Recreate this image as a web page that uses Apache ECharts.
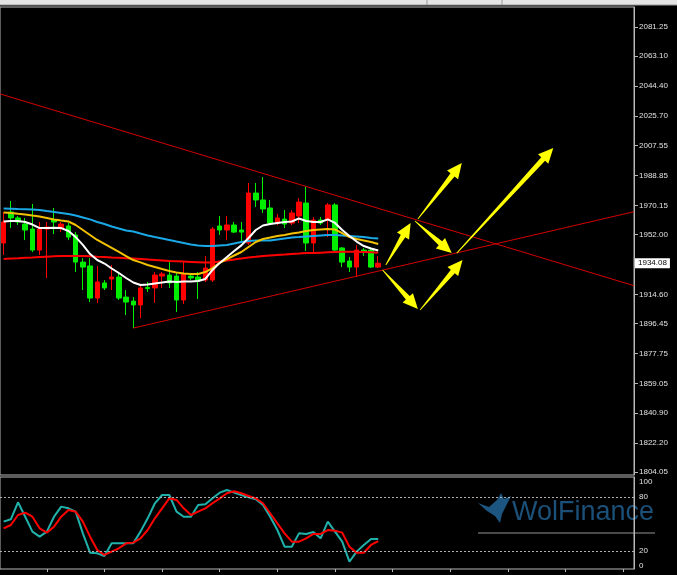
<!DOCTYPE html>
<html>
<head>
<meta charset="utf-8">
<script src="https://cdn.jsdelivr.net/npm/echarts@6/dist/echarts.min.js"></script>
<style>html,body{margin:0;padding:0;background:#000;}#c{width:677px;height:575px;}</style>
</head>
<body>
<div id="c"></div>
<script>
// ---- data ----
const slotCount = 88; // bar slots on the time axis (53 bars + empty space to the right)
const categories = Array.from({length: slotCount}, (_, i) => 'B' + i);

const open  = [1946.7,1966.0,1962.3,1958.5,1955.4,1942.3,1955.4,1961.0,1956.0,1957.3,
               1951.7,1934.8,1932.4,1912.4,1921.8,1924.3,1925.5,1913.0,1910.5,1908.1,
               1919.0,1918.7,1926.1,1926.7,1926.1,1911.2,1926.1,1925.5,1923.6,1923.6,
               1957.3,1954.8,1957.9,1954.8,1946.7,1977.8,1973.5,1968.5,1959.1,1961.6,
               1959.1,1963.5,1971.6,1946.7,1961.0,1961.0,1970.4,1943.6,1935.5,1931.7,
               1942.3,1942.3,1931.7];
const close = [1959.8,1962.3,1959.8,1954.8,1942.3,1955.4,1956.6,1959.8,1958.5,1950.4,
               1934.8,1931.7,1912.4,1922.4,1918.7,1925.5,1912.4,1909.9,1908.1,1918.7,
               1918.3,1926.7,1927.4,1921.8,1911.2,1927.4,1924.9,1923.0,1931.1,1955.4,
               1954.8,1957.9,1953.5,1953.5,1977.8,1973.5,1967.9,1959.1,1962.3,1958.5,
               1965.4,1972.2,1946.7,1961.0,1959.1,1970.4,1942.3,1934.8,1931.7,1942.3,
               1941.1,1931.7,1934.08];
const low   = [1939.2,1956.0,1957.9,1948.5,1941.1,1939.2,1924.9,1952.3,1953.5,1948.5,
               1928.6,1917.4,1909.9,1909.3,1917.4,1917.4,1911.2,1901.8,1893.7,1899.9,
               1916.2,1909.3,1918.7,1918.7,1903.7,1908.7,1923.6,1911.8,1922.4,1922.4,
               1951.7,1948.5,1952.9,1947.3,1945.4,1969.1,1965.4,1957.9,1957.9,1956.0,
               1957.9,1959.1,1941.7,1941.1,1957.9,1950.4,1941.1,1931.7,1928.6,1925.5,
               1938.6,1931.1,1931.1];
const high  = [1966.0,1972.9,1963.5,1962.3,1971.0,1959.8,1959.8,1968.5,1959.8,1959.1,
               1953.5,1937.3,1937.3,1932.4,1923.6,1933.0,1928.6,1917.4,1913.0,1920.5,
               1922.4,1928.6,1928.6,1934.8,1928.6,1934.8,1927.4,1928.6,1938.6,1956.6,
               1963.5,1963.5,1959.8,1959.8,1984.1,1984.1,1987.8,1973.5,1964.8,1967.2,
               1967.2,1974.7,1981.6,1962.9,1962.9,1971.6,1971.6,1944.2,1938.0,1945.4,
               1943.6,1943.6,1938.6];

const maBlue   = [1968.2,1968.1,1967.9,1967.8,1967.6,1967.3,1966.6,1966.0,1965.4,1964.7,
                  1963.8,1962.6,1961.4,1959.8,1958.5,1957.0,1955.7,1954.5,1953.9,1952.6,
                  1951.4,1950.4,1949.5,1948.6,1947.6,1946.7,1945.8,1945.2,1944.8,1944.8,
                  1945.2,1945.5,1946.4,1947.3,1948.0,1948.3,1948.3,1948.3,1948.9,1949.5,
                  1950.1,1950.4,1950.8,1951.1,1951.4,1951.7,1951.7,1951.4,1951.1,1950.8,
                  1950.4,1949.8,1949.5];
const maYellow = [1965.7,1965.4,1964.9,1964.5,1963.8,1963.2,1962.3,1961.4,1960.7,1960.1,
                  1957.9,1954.8,1951.7,1948.6,1946.1,1943.6,1941.1,1938.6,1936.1,1934.6,
                  1933.0,1931.8,1930.5,1929.3,1928.3,1927.7,1927.4,1927.4,1928.6,1931.1,
                  1934.3,1936.7,1938.9,1941.1,1944.2,1947.3,1949.2,1950.1,1951.1,1951.7,
                  1952.6,1953.3,1954.2,1954.8,1955.1,1955.4,1955.1,1952.9,1950.4,1949.2,
                  1948.3,1947.3,1946.1];
const maWhite  = [1960.1,1960.4,1960.4,1959.8,1958.2,1956.0,1956.0,1956.2,1956.0,1954.2,
                  1950.4,1945.5,1939.8,1936.1,1933.9,1930.8,1928.0,1924.9,1922.1,1920.5,
                  1920.8,1921.5,1922.1,1922.7,1922.4,1922.7,1922.7,1923.0,1924.3,1929.9,
                  1934.3,1938.0,1941.7,1945.2,1949.8,1954.8,1957.6,1958.5,1959.2,1959.8,
                  1960.1,1962.0,1960.4,1959.8,1959.8,1961.4,1959.2,1954.8,1951.1,1947.6,
                  1944.8,1943.3,1942.0];
const maRed    = [1936.7,1937.0,1937.2,1937.5,1937.7,1938.0,1938.2,1938.4,1938.6,1938.6,
                  1938.6,1938.6,1938.5,1938.2,1938.0,1937.7,1937.5,1937.2,1937.0,1936.7,
                  1936.4,1936.1,1935.8,1935.5,1935.3,1935.1,1934.9,1934.7,1934.5,1934.5,
                  1935.2,1935.8,1936.4,1937.1,1937.7,1938.1,1938.6,1938.9,1939.2,1939.5,
                  1939.9,1940.1,1940.4,1940.5,1940.7,1940.9,1941.1,1941.3,1941.3,1941.3,
                  1941.1,1940.9,1940.7];

const stochK = [52.6,55.2,74.1,58.1,41.5,35.9,41.5,58.1,69.3,67.4,
                63.7,39.6,18.1,17.4,14.4,28.5,28.5,28.5,28.5,41.5,
                56.3,73.0,82.2,82.2,63.7,58.1,58.1,71.1,71.9,78.5,
                84.8,87.8,84.8,82.2,79.6,77.4,71.1,58.1,43.3,24.8,
                24.8,39.6,38.9,41.1,34.1,52.6,41.5,30.4,8.1,19.3,
                26.7,33.3,33.3];
const stochD = [45.2,48.9,60.0,62.6,58.1,45.2,40.4,47.0,58.1,65.6,
                63.7,52.6,35.9,21.1,15.6,19.3,23.0,28.5,29.3,34.1,
                43.3,56.3,67.4,78.5,76.7,67.4,60.0,63.7,67.4,73.0,
                78.5,84.1,86.3,84.1,81.1,78.5,73.0,61.9,50.7,39.6,
                30.4,30.4,34.1,38.9,38.9,43.3,42.6,40.4,24.8,18.1,
                18.1,26.7,31.1];

const priceTicks = [2081.25,2063.10,2044.40,2025.70,2007.55,1988.85,1970.15,1952.00,
                    1914.60,1896.45,1877.75,1859.05,1840.90,1822.20,1804.05];
const stochTicks = [0,20,80,100];
const stochLevels = [80,20];
const lastPrice = 1934.08;
const brandText = 'WolFinance';

// trend lines and arrows: [barIndex, price] anchors
const trendDown = [[-0.5,2039.6],[87.5,1920.1]];
const trendUp   = [[18,1893.7],[87.5,1966.2]];
const arrows = [
  [53.05,1933.0,56.5,1959.1],
  [52.6,1929.9,57.5,1905.6],
  [57.8,1904.9,63.7,1936.1],
  [57.5,1961.6,63.6,1996.5],
  [57.1,1960.4,62.2,1940.4],
  [62.9,1940.4,76.3,2005.9]
];

// ---- chart ----
const candles = open.map((o, i) => [o, close[i], low[i], high[i]]);
const chart = echarts.init(document.getElementById('c'), null, {renderer: 'canvas'});
const FONT = 'Liberation Sans';
const axisGrey = '#b8b8b8';

function renderArrow(params, api) {
  const p1 = api.coord([api.value(0), api.value(1)]);
  const p2 = api.coord([api.value(2), api.value(3)]);
  const dx = p2[0] - p1[0], dy = p2[1] - p1[1];
  const len = Math.hypot(dx, dy);
  const ux = dx / len, uy = dy / len, nx = -uy, ny = ux;
  const headLen = Math.min(15, len * 0.4), headW = 7, shaftW = 2.6, tailW = 0.4;
  const bx = p2[0] - ux * headLen, by = p2[1] - uy * headLen;
  const pts = [
    [p1[0] + nx * tailW, p1[1] + ny * tailW],
    [bx + nx * shaftW, by + ny * shaftW],
    [bx + nx * headW, by + ny * headW],
    [p2[0], p2[1]],
    [bx - nx * headW, by - ny * headW],
    [bx - nx * shaftW, by - ny * shaftW],
    [p1[0] - nx * tailW, p1[1] - ny * tailW]
  ];
  return {type: 'polygon', shape: {points: pts}, style: {fill: '#ffff00'}};
}

const option = {
  backgroundColor: '#000',
  animation: false,
  grid: [
    {left: -2, right: 43, top: 7, height: 468, show: true, borderColor: axisGrey, borderWidth: 1},
    {left: -2, right: 43, top: 477, height: 92, show: true, borderColor: axisGrey, borderWidth: 1}
  ],
  xAxis: [
    {type: 'category', gridIndex: 0, data: categories, boundaryGap: true,
     axisLine: {show: false, onZero: false}, axisTick: {show: false}, axisLabel: {show: false}, splitLine: {show: false}},
    {type: 'value', gridIndex: 0, min: -0.5, max: slotCount - 0.5, show: false,
     axisLine: {onZero: false}},
    {type: 'category', gridIndex: 1, data: categories, boundaryGap: true,
     axisLine: {show: false, onZero: false},
     axisTick: {show: true, alignWithLabel: true, length: 3, interval: (i) => i % 8 === 6,
                lineStyle: {color: axisGrey}},
     axisLabel: {show: false}, splitLine: {show: false}}
  ],
  yAxis: [
    {type: 'value', gridIndex: 0, position: 'right', min: 1802.18, max: 2093.71, scale: true,
     axisLine: {show: true, onZero: false, lineStyle: {color: axisGrey}}, splitLine: {show: false},
     axisTick: {show: true, length: 4, customValues: priceTicks, lineStyle: {color: axisGrey}},
     axisLabel: {show: true, customValues: priceTicks, margin: 5, color: '#e0e0e0',
                 fontFamily: FONT, fontSize: 8, formatter: (v) => v.toFixed(2)}},
    {type: 'value', gridIndex: 1, position: 'right', min: 0, max: 102.2,
     axisLine: {show: true, onZero: false, lineStyle: {color: axisGrey}}, splitLine: {show: false},
     axisTick: {show: false, customValues: stochTicks},
     axisLabel: {show: true, customValues: stochTicks, margin: 5, color: '#e0e0e0',
                 fontFamily: FONT, fontSize: 8,
                 formatter: (v) => v === 100 ? '{dn|100}' : (v === 0 ? '{up|0}' : String(v)),
                 rich: {dn: {padding: [6, 0, 0, 0], fontSize: 8, fontFamily: FONT, color: '#e0e0e0'},
                        up: {padding: [0, 0, 6, 0], fontSize: 8, fontFamily: FONT, color: '#e0e0e0'}}}}
  ],
  graphic: [
    {type: 'rect', z: -10, shape: {x: 0, y: 0, width: 677, height: 5}, style: {fill: '#e4e4e4'}},
    {type: 'line', z: -9, shape: {x1: 0, y1: 5, x2: 677, y2: 5}, style: {stroke: '#9a9a9a', lineWidth: 1}},
    {type: 'line', z: -9, shape: {x1: 427, y1: 0, x2: 427, y2: 5}, style: {stroke: '#9a9a9a', lineWidth: 1}},
    {type: 'line', z: -9, shape: {x1: 502, y1: 0, x2: 502, y2: 5}, style: {stroke: '#9a9a9a', lineWidth: 1}},
    {type: 'polygon', z: -10,
     shape: {points: [[478,503],[489,507],[497,500],[501,493],[504,499],[511,496],[506,506],[502,514],[500,523],[495,516],[487,511]]},
     style: {fill: '#1b5580'}},
    {type: 'text', z: -10, left: 512, top: 499,
     style: {text: brandText, fontSize: 27, fontFamily: FONT, fill: '#1b5079'}},
    {type: 'line', z: -10, shape: {x1: 478, y1: 533, x2: 655, y2: 533}, style: {stroke: '#4a4a4a', lineWidth: 2}}
  ],
  series: [
    {type: 'candlestick', name: 'price', xAxisIndex: 0, yAxisIndex: 0, data: candles, barWidth: 5,
     itemStyle: {color: '#ff0000', color0: '#00ee00', borderColor: '#ff0000', borderColor0: '#00ee00', borderWidth: 1},
     markLine: {silent: true, symbol: 'none', lineStyle: {color: 'rgba(0,0,0,0)', width: 0},
                data: [{yAxis: lastPrice}],
                label: {show: true, position: 'end', distance: 1, formatter: lastPrice.toFixed(2),
                        backgroundColor: '#ffffff', color: '#000', fontFamily: FONT, fontSize: 8,
                        padding: [1, 3, 1, 3], opacity: 1}}},
    {type: 'line', name: 'maRed', xAxisIndex: 0, yAxisIndex: 0, data: maRed, symbol: 'none',
     lineStyle: {color: '#ff0000', width: 2}},
    {type: 'line', name: 'maBlue', xAxisIndex: 0, yAxisIndex: 0, data: maBlue, symbol: 'none',
     lineStyle: {color: '#1aa8e6', width: 2}},
    {type: 'line', name: 'maYellow', xAxisIndex: 0, yAxisIndex: 0, data: maYellow, symbol: 'none',
     lineStyle: {color: '#f2c200', width: 2}},
    {type: 'line', name: 'maWhite', xAxisIndex: 0, yAxisIndex: 0, data: maWhite, symbol: 'none',
     lineStyle: {color: '#ffffff', width: 2}},
    {type: 'line', name: 'trendDown', xAxisIndex: 1, yAxisIndex: 0, data: trendDown, symbol: 'none', z: 5,
     lineStyle: {color: '#d40000', width: 1}},
    {type: 'line', name: 'trendUp', xAxisIndex: 1, yAxisIndex: 0, data: trendUp, symbol: 'none', z: 5,
     lineStyle: {color: '#d40000', width: 1}},
    {type: 'custom', name: 'arrows', xAxisIndex: 1, yAxisIndex: 0, data: arrows, z: 6,
     encode: {x: [0, 2], y: [1, 3]}, renderItem: renderArrow, clip: false},
    {type: 'line', name: 'stochK', xAxisIndex: 2, yAxisIndex: 1, data: stochK, symbol: 'none',
     lineStyle: {color: '#20b2aa', width: 2},
     markLine: {silent: true, symbol: 'none', label: {show: false},
                lineStyle: {color: '#b0b0b0', type: [2, 2], width: 1},
                data: stochLevels.map(v => ({yAxis: v}))}},
    {type: 'line', name: 'stochD', xAxisIndex: 2, yAxisIndex: 1, data: stochD, symbol: 'none',
     lineStyle: {color: '#ff0000', width: 2}}
  ]
};
chart.setOption(option);
</script>
</body>
</html>
